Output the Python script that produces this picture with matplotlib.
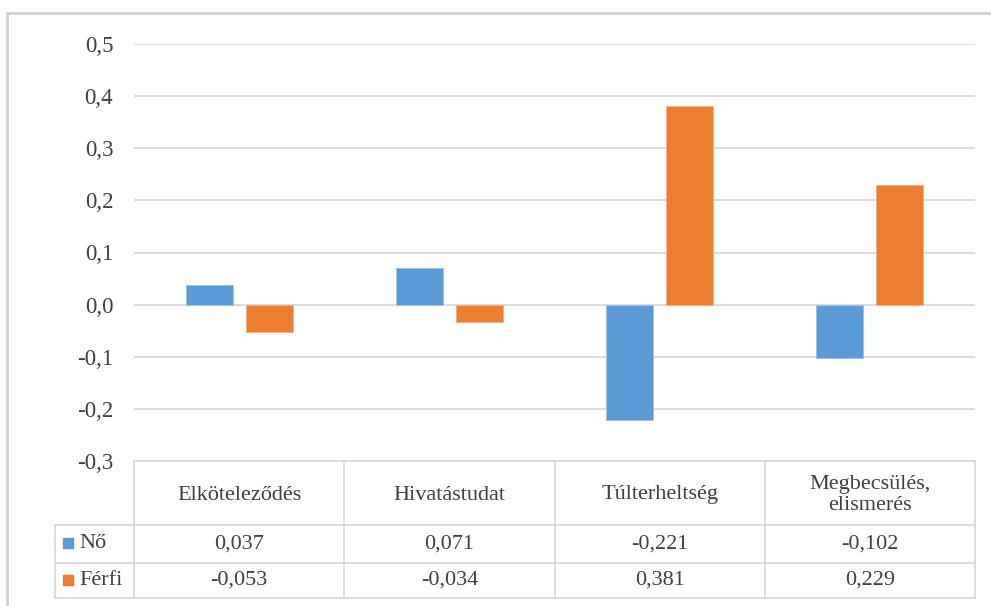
import matplotlib
matplotlib.use('Agg')
import matplotlib.pyplot as plt
from matplotlib.patches import Rectangle
import numpy as np

categories = ['Elköteleződés', 'Hivatástudat', 'Túlterheltség', 'Megbecsülés,\nelismerés']
series_names = ['Nő', 'Férfi']
no_values = [0.037, 0.071, -0.221, -0.102]
ferfi_values = [-0.053, -0.034, 0.381, 0.229]
y_ticks = [-0.3, -0.2, -0.1, 0.0, 0.1, 0.2, 0.3, 0.4, 0.5]

colors = ['#5B9BD5', '#ED7D31']
grid_color = '#D9D9D9'
text_color = '#404040'

plt.rcParams['font.family'] = 'serif'
plt.rcParams['font.serif'] = ['Liberation Serif', 'DejaVu Serif']
SERIF = ['Liberation Serif', 'DejaVu Serif']

W, H = 991, 606
fig = plt.figure(figsize=(W / 100, H / 100), dpi=100)


def fx(px):
    return px / W


def fy(py):
    return 1 - py / H


# outer chart frame
fig.patches.append(Rectangle((fx(7), fy(620)), fx(1000) - fx(7), fy(13) - fy(620),
                             transform=fig.transFigure, fill=False,
                             edgecolor='#D0D0D0', linewidth=2))

# plot area
left, right, top, bottom = 134, 975, 44, 461
ax = fig.add_axes([fx(left), fy(bottom), fx(right) - fx(left), fy(top) - fy(bottom)])
x = np.arange(len(categories))
width = 0.224
offset = 0.143
ax.bar(x - offset, no_values, width, color=colors[0], edgecolor='#9DC3E6',
       linewidth=0.6, zorder=3)
ax.bar(x + offset, ferfi_values, width, color=colors[1], edgecolor='#F4B183',
       linewidth=0.6, zorder=3)
ax.set_xlim(-0.5, len(categories) - 0.5)
ax.set_ylim(-0.3, 0.5)
ax.set_yticks(y_ticks)
ax.set_yticklabels([f'{t:.1f}'.replace('.', ',') for t in y_ticks],
                   fontsize=16.5, color=text_color, family=SERIF)
ax.tick_params(axis='y', length=0, pad=15)
ax.set_xticks([])
for t in y_ticks[1:]:
    ax.axhline(t, color=grid_color, linewidth=1.3, zorder=1)
for s in ax.spines.values():
    s.set_visible(False)

# data table under the plot
tab = fig.add_axes([0, 0, 1, 1], facecolor='none')
tab.set_xlim(0, W)
tab.set_ylim(H, 0)
tab.axis('off')
line_kw = dict(color=grid_color, linewidth=1.3)
col_edges = np.linspace(left, right, len(categories) + 1)
row_label_left = 55
rows = [461, 525, 563, 598]

tab.plot([left, right], [rows[0], rows[0]], **line_kw)
for r in rows[1:]:
    tab.plot([row_label_left, right], [r, r], **line_kw)
for c in col_edges:
    tab.plot([c, c], [rows[0], rows[-1]], **line_kw)
tab.plot([row_label_left, row_label_left], [rows[1], rows[-1]], **line_kw)

for i, cat in enumerate(categories):
    cx = (col_edges[i] + col_edges[i + 1]) / 2
    tab.text(cx, (rows[0] + rows[1]) / 2 + 2, cat, ha='center', va='center',
             fontsize=16, color=text_color, linespacing=1.1, family=SERIF)

for j, (name, vals) in enumerate(zip(series_names, [no_values, ferfi_values])):
    cy = (rows[j + 1] + rows[j + 2]) / 2
    tab.add_patch(Rectangle((row_label_left + 8, cy - 6), 10, 10, color=colors[j]))
    tab.text(row_label_left + 24, cy, name, ha='left', va='center',
             fontsize=16, color=text_color, family=SERIF)
    for i, v in enumerate(vals):
        cx = (col_edges[i] + col_edges[i + 1]) / 2
        tab.text(cx, cy, f'{v:.3f}'.replace('.', ','), ha='center', va='center',
                 fontsize=16, color=text_color, family=SERIF)

fig.savefig('out.png', dpi=100)
